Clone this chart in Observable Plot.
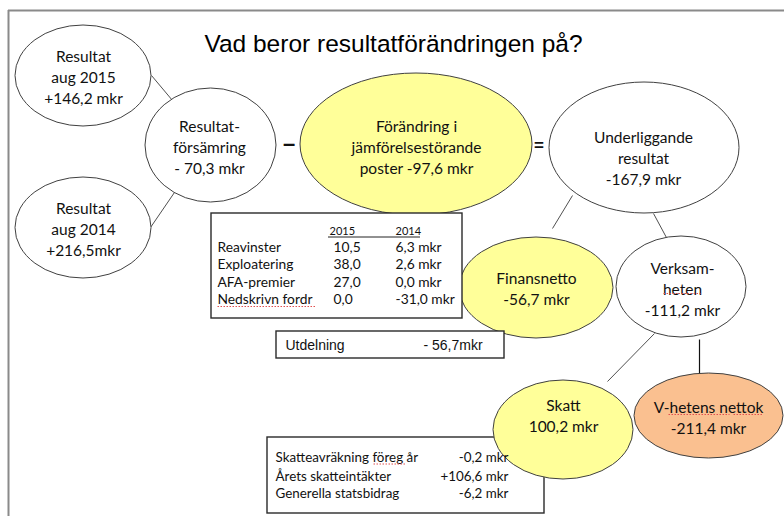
<!DOCTYPE html>
<html><head><meta charset="utf-8">
<script src="https://cdn.jsdelivr.net/npm/d3@7"></script>
<script src="https://cdn.jsdelivr.net/npm/@observablehq/plot@0.6"></script>
<style>html,body{margin:0;padding:0;background:#fff;} svg{display:block;}</style>
</head><body><div id="chart"></div>
<script>
// ---- content (values & texts) ----
const title = "Vad beror resultatförändringen på?";
const nodeLabels = [
  "Resultat\naug 2015\n+146,2 mkr",
  "Resultat\naug 2014\n+216,5mkr",
  "Resultat-\nförsämring\n- 70,3 mkr",
  "Förändring i\njämförelsestörande\nposter -97,6 mkr",
  "Underliggande\nresultat\n-167,9 mkr",
  "Finansnetto\n-56,7 mkr",
  "Verksam-\nheten\n-111,2 mkr",
  "Skatt\n100,2 mkr",
  "V-hetens nettok\n-211,4 mkr"
];
const nodeKinds = ["plain","plain","plain","item","plain","item","plain","item","net"];
const operators = ["–", "="];
const tableYears = ["2015", "2014"];
const tableItems = ["Reavinster", "Exploatering", "AFA-premier", "Nedskrivn fordr"];
const values2015 = ["10,5", "38,0", "27,0", "0,0"];
const values2014 = ["6,3 mkr", "2,6 mkr", "0,0 mkr", "-31,0 mkr"];
const utdelningLabel = "Utdelning";
const utdelningValue = "- 56,7mkr";
const skattItems = ["Skatteavräkning föreg år", "Årets skatteintäkter", "Generella statsbidrag"];
const skattValues = ["-0,2 mkr", "+106,6 mkr", "-6,2 mkr"];

// ---- layout (positions & sizes, in pixel units of the x/y scales) ----
const nodeLayout = [
  {cx: 83,  cy: 75.5,  rx: 68,  ry: 50.5, tx: 83,  ty: 76},
  {cx: 83,  cy: 227.5, rx: 68,  ry: 50.5, tx: 83,  ty: 228},
  {cx: 210.5, cy: 145, rx: 65.5, ry: 57,  tx: 209, ty: 146},
  {cx: 416, cy: 144,   rx: 116, ry: 71,   tx: 416, ty: 146},
  {cx: 644, cy: 147.5, rx: 95,  ry: 65.5, tx: 643, ty: 157},
  {cx: 536, cy: 287.5, rx: 77,  ry: 50.5, tx: 536, ty: 287},
  {cx: 681, cy: 286.5, rx: 65,  ry: 50.5, tx: 682, ty: 287.5},
  {cx: 563, cy: 429.5, rx: 70,  ry: 49.5, tx: 563, ty: 414},
  {cx: 708.5, cy: 415.5, rx: 74.5, ry: 42.5, tx: 708, ty: 416}
];
const operatorLayout = [{x: 288.5, y: 143}, {x: 538.5, y: 145}];
const operatorSizes = [22, 17];
const linkLayout = [
  [151, 75, 172, 100], [150, 227, 176, 189],
  [572, 195, 552, 228], [653, 213, 667, 239],
  [654, 333, 607, 381]
];
const darkLinkLayout = [[699, 339, 699, 373]];
const boxLayout = [
  {x1: 211, x2: 462, y1: 213, y2: 318},
  {x1: 276, x2: 504, y1: 331, y2: 358},
  {x1: 267, x2: 544, y1: 437, y2: 513}
];
const tableRowY = [247, 264.5, 282, 299.5];
const tableHeaderX = [329, 395];
const skattRowY = [457.5, 476, 493.5];
const squiggles = [[217, 306, 315, 306], [663, 293, 700, 293], [668, 414, 729, 414], [733, 414, 763, 414], [373, 463.5, 406, 463.5]];

const fillByKind = {plain: "#ffffff", item: "#ffff99", net: "#fac090"};
const calibriLike = "Lato, Carlito, Calibri, sans-serif";
const arialLike = "'Liberation Sans', Arial, sans-serif";

function ellipses(idx) {
  return (index, scales) => {
    const sx = scales && scales.x ? scales.x : (v => v);
    const sy = scales && scales.y ? scales.y : (v => v);
    const g = d3.create("svg:g");
    g.selectAll("ellipse").data(idx).join("ellipse")
      .attr("cx", i => sx(nodeLayout[i].cx))
      .attr("cy", i => sy(nodeLayout[i].cy))
      .attr("rx", i => Math.abs(sx(nodeLayout[i].cx + nodeLayout[i].rx) - sx(nodeLayout[i].cx)))
      .attr("ry", i => Math.abs(sy(nodeLayout[i].cy + nodeLayout[i].ry) - sy(nodeLayout[i].cy)))
      .attr("fill", i => fillByKind[nodeKinds[i]])
      .attr("stroke", "#404040")
      .attr("stroke-width", 1);
    return g.node();
  };
}

const linkOpts = {x1: d => d[0], y1: d => d[1], x2: d => d[2], y2: d => d[3]};

const chart = Plot.plot({
  width: 784,
  height: 516,
  margin: 0,
  x: {domain: [0, 784], range: [0, 784], axis: null},
  y: {domain: [0, 516], range: [0, 516], axis: null},
  style: {background: "#ffffff"},
  marks: [
    Plot.ruleY([10], {x1: 8, x2: 784, stroke: "#8a8a8a", strokeWidth: 2}),
    Plot.ruleX([8], {y1: 10, y2: 516, stroke: "#8a8a8a", strokeWidth: 2}),
    Plot.link(linkLayout, {...linkOpts, stroke: "#505050", strokeWidth: 1}),
    Plot.link(darkLinkLayout, {...linkOpts, stroke: "#111", strokeWidth: 1.2}),
    ellipses([0, 1, 2, 3, 4, 5, 6, 8]),
    Plot.rect(boxLayout, {x1: "x1", x2: "x2", y1: "y1", y2: "y2", fill: "#fff", stroke: "#2a2a2a", strokeWidth: 1.4}),
    ellipses([7]),
    Plot.text([title], {x: 393, y: 44, text: d => d, fontFamily: arialLike, fontSize: 24.5, fill: "#000"}),
    Plot.text(nodeLabels, {x: (d, i) => nodeLayout[i].tx, y: (d, i) => nodeLayout[i].ty, text: d => d,
      fontFamily: calibriLike, fontSize: 15.5, lineHeight: 1.36, fill: "#111"}),
    Plot.text(operators, {x: (d, i) => operatorLayout[i].x, y: (d, i) => operatorLayout[i].y, text: d => d,
      fontFamily: arialLike, fontWeight: "bold", fontSize: (d, i) => operatorSizes[i], fill: "#111"}),
    Plot.text(tableYears, {x: (d, i) => tableHeaderX[i], y: 231, text: d => d, textAnchor: "start",
      fontFamily: calibriLike, fontSize: 11, fill: "#111"}),
    Plot.ruleY([236.5], {x1: 328, x2: 420, stroke: "#222", strokeWidth: 1}),
    Plot.text(tableItems, {x: 217, y: (d, i) => tableRowY[i], text: d => d, textAnchor: "start",
      fontFamily: calibriLike, fontSize: 13.8, fill: "#111"}),
    Plot.text(values2015, {x: 333, y: (d, i) => tableRowY[i], text: d => d, textAnchor: "start",
      fontFamily: calibriLike, fontSize: 13.8, fill: "#111"}),
    Plot.text(values2014, {x: 395, y: (d, i) => tableRowY[i], text: d => d, textAnchor: "start",
      fontFamily: calibriLike, fontSize: 13.8, fill: "#111"}),
    Plot.text([utdelningLabel], {x: 285, y: 345, text: d => d, textAnchor: "start",
      fontFamily: arialLike, fontSize: 14, fill: "#111"}),
    Plot.text([utdelningValue], {x: 423, y: 345, text: d => d, textAnchor: "start",
      fontFamily: arialLike, fontSize: 14, fill: "#111"}),
    Plot.text(skattItems, {x: 275, y: (d, i) => skattRowY[i], text: d => d, textAnchor: "start",
      fontFamily: calibriLike, fontSize: 13.4, fill: "#111"}),
    Plot.text(skattValues, {x: 508, y: (d, i) => skattRowY[i], text: d => d, textAnchor: "end",
      fontFamily: calibriLike, fontSize: 13.4, fill: "#111"}),
    Plot.link(squiggles, {...linkOpts, stroke: "#e05050", strokeWidth: 1, strokeDasharray: "1.5,1.5"})
  ]
});
document.getElementById("chart").append(chart);
</script>
</body></html>
